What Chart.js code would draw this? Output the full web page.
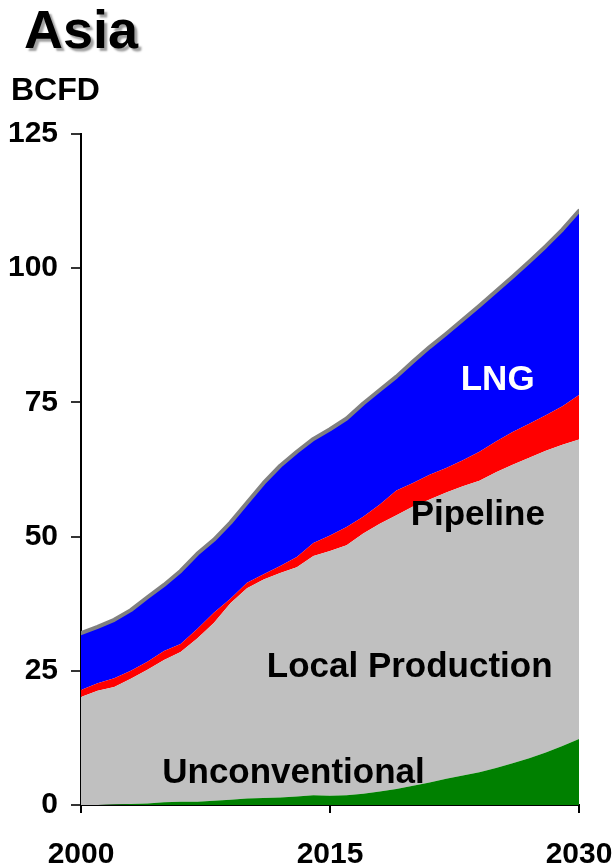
<!DOCTYPE html>
<html>
<head>
<meta charset="utf-8">
<script src="https://cdn.jsdelivr.net/npm/chart.js@4/dist/chart.umd.min.js"></script>
<style>
  html, body { margin: 0; padding: 0; background: #fff; }
  #wrap { position: relative; width: 615px; height: 867px; }
  #chart { position: absolute; left: 0; top: 0; }
  .lbl { position: absolute; font-family: "Liberation Sans", Arial, sans-serif; font-weight: bold; color: #000; white-space: nowrap; }
  #title { left: 24px; top: 2px; font-size: 54px; line-height: 54px; text-shadow: 3px 3px 2px #a0a0a0; }
  #unit { left: 11px; top: 73px; font-size: 32px; line-height: 32px; }
</style>
</head>
<body>
<div id="wrap">
  <canvas id="chart" width="615" height="867"></canvas>
  <div id="title" class="lbl">Asia</div>
  <div id="unit" class="lbl">BCFD</div>
</div>
<script>
// years on the x axis
var years = [2000, 2001, 2002, 2003, 2004, 2005, 2006, 2007, 2008, 2009,
             2010, 2011, 2012, 2013, 2014, 2015, 2016, 2017, 2018, 2019,
             2020, 2021, 2022, 2023, 2024, 2025, 2026, 2027, 2028, 2029, 2030];

// BCFD by source (stacked, bottom to top)
var unconventional = [0, 0, 0.1, 0.2, 0.3, 0.5, 0.6, 0.6, 0.8, 1.0,
                      1.2, 1.3, 1.4, 1.6, 1.8, 1.7, 1.8, 2.1, 2.5, 3.0,
                      3.6, 4.2, 4.9, 5.5, 6.1, 6.9, 7.8, 8.7, 9.8, 11.0, 12.3];
var localProduction = [20.1, 21.3, 21.9, 23.3, 24.9, 26.5, 27.9, 30.4, 33.1, 36.6,
                       39.2, 40.7, 41.8, 42.7, 44.6, 45.6, 46.6, 48.5, 49.9, 51.0,
                       52.0, 52.7, 53.3, 53.9, 54.3, 55.1, 55.6, 56.0, 56.2, 56.1, 55.8];
var pipeline = [1.3, 1.4, 1.6, 1.5, 1.5, 1.7, 1.5, 1.8, 1.9, 0.8,
                1.0, 1.0, 1.3, 1.9, 2.4, 2.9, 3.4, 3.1, 3.6, 4.6,
                4.4, 4.6, 4.6, 4.8, 5.4, 5.7, 6.1, 6.3, 6.6, 7.2, 8.3];
var lng = [10.6, 10.5, 10.9, 11.3, 12.0, 12.3, 13.6, 14.0, 13.6, 14.2,
           14.9, 17.0, 18.7, 19.6, 19.4, 19.8, 20.2, 21.1, 21.3, 21.2,
           22.6, 23.8, 25.0, 26.2, 27.2, 28.0, 28.9, 30.2, 31.5, 32.9, 34.3];

var xTicks = [2000, 2015, 2030];
var yTicks = [0, 25, 50, 75, 100, 125];

// in-chart series names, placed in data units (x = year, y = BCFD at baseline)
var areaLabels = [
    { text: "Unconventional", x: 2012.8, y: 4.1, color: "#000" },
    { text: "Local Production", x: 2019.8, y: 23.8, color: "#000" },
    { text: "Pipeline", x: 2023.9, y: 52.2, color: "#000" },
    { text: "LNG", x: 2025.1, y: 77.3, color: "#fff" }
];

var FONT = '"Liberation Sans", Arial, sans-serif';

function pts(arr) {
    var out = [];
    for (var i = 0; i < years.length; i++) {
        out.push({ x: years[i], y: arr[i] });
    }
    return out;
}

var areaLabelPlugin = {
    id: "areaLabels",
    afterDatasetsDraw: function(chart) {
        var ctx = chart.ctx;
        var xs = chart.scales.x, ys = chart.scales.y;
        ctx.save();
        ctx.font = "bold 35px " + FONT;
        ctx.textAlign = "center";
        ctx.textBaseline = "alphabetic";
        areaLabels.forEach(function(l) {
            ctx.fillStyle = l.color;
            ctx.fillText(l.text, xs.getPixelForValue(l.x), ys.getPixelForValue(l.y));
        });
        ctx.restore();
    }
};

var ctx = document.getElementById("chart").getContext("2d");
var chart = new Chart(ctx, {
    type: "line",
    data: {
        datasets: [
            { label: "Unconventional", data: pts(unconventional), backgroundColor: "#008000", fill: "origin", borderWidth: 0 },
            { label: "Local Production", data: pts(localProduction), backgroundColor: "#c0c0c0", fill: "-1", borderWidth: 0 },
            { label: "Pipeline", data: pts(pipeline), backgroundColor: "#ff0000", fill: "-1", borderWidth: 0 },
            { label: "LNG", data: pts(lng), backgroundColor: "#0000ff", fill: "-1",
              borderColor: "#808080", borderWidth: 4, borderCapStyle: "round", borderJoinStyle: "round" }
        ]
    },
    options: {
        responsive: false,
        animation: false,
        events: [],
        elements: { point: { radius: 0 }, line: { tension: 0 } },
        layout: { padding: { top: 134, right: 36, left: 0, bottom: 0 } },
        plugins: {
            legend: { display: false },
            tooltip: { enabled: false },
            title: { display: false }
        },
        scales: {
            x: {
                type: "linear",
                min: 2000,
                max: 2030,
                afterFit: function(s) { s.height = 62; s.paddingLeft = 0; s.paddingRight = 0; },
                afterBuildTicks: function(s) { s.ticks = xTicks.map(function(v) { return { value: v }; }); },
                ticks: {
                    padding: 24,
                    color: "#000",
                    maxRotation: 0,
                    font: { family: FONT, size: 30, weight: "bold" },
                    callback: function(v) { return String(v); }
                },
                grid: { drawOnChartArea: false, drawTicks: true, tickLength: 8, color: "#000", lineWidth: 2 },
                border: { color: "#000", width: 2 }
            },
            y: {
                stacked: true,
                min: 0,
                max: 125,
                afterFit: function(s) { s.width = 81; s.paddingTop = 0; s.paddingBottom = 0; },
                afterBuildTicks: function(s) { s.ticks = yTicks.map(function(v) { return { value: v }; }); },
                ticks: {
                    padding: 13,
                    color: "#000",
                    font: { family: FONT, size: 30, weight: "bold" }
                },
                grid: { drawOnChartArea: false, drawTicks: true, tickLength: 10, color: "#333", lineWidth: 2 },
                border: { color: "#000", width: 2 }
            }
        }
    },
    plugins: [areaLabelPlugin]
});
</script>
</body>
</html>
